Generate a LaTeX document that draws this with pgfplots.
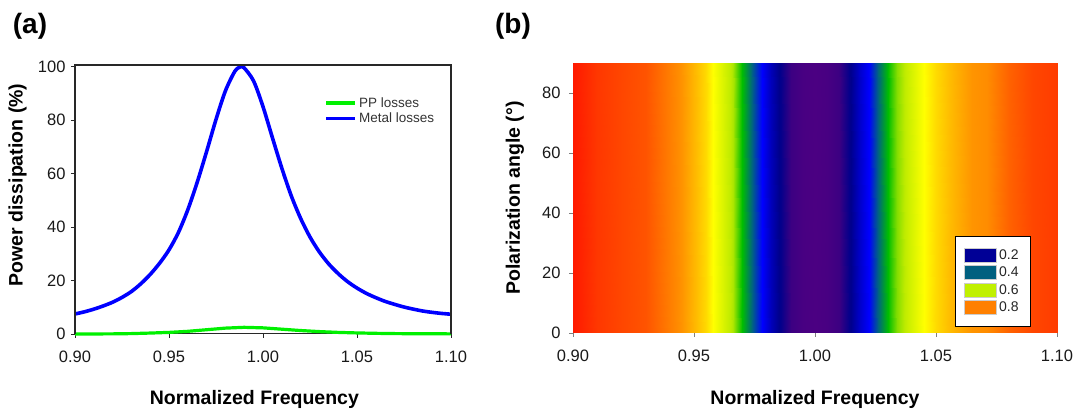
\documentclass[border=0pt]{standalone}
\usepackage{fontspec}
\setmainfont{Liberation Sans}
\usepackage{pgfplots}
\usepackage{pgfplotstable}
\pgfplotsset{compat=1.18}

\definecolor{gA}{RGB}{0,240,0}
\definecolor{bA}{RGB}{0,0,255}
\definecolor{frameC}{RGB}{40,40,40}
\definecolor{sw1}{RGB}{0,0,150}
\definecolor{sw2}{RGB}{0,96,128}
\definecolor{sw3}{RGB}{192,240,0}
\definecolor{sw4}{RGB}{255,128,0}

\pgfplotstableread{
x y
0.900 7.5
0.905 8.3
0.910 9.3
0.915 10.5
0.920 11.9
0.925 13.7
0.930 15.9
0.935 18.8
0.940 22.3
0.945 26.5
0.950 31.5
0.955 38.0
0.960 46.5
0.965 56.8
0.970 68.3
0.975 80.3
0.980 91.0
0.985 98.3
0.988 100.0
0.990 99.6
0.995 94.7
1.000 85.1
1.005 73.5
1.010 62.1
1.015 51.8
1.020 43.3
1.025 36.3
1.030 30.7
1.035 26.2
1.040 22.6
1.045 19.6
1.050 17.2
1.055 15.2
1.060 13.6
1.065 12.2
1.070 11.1
1.075 10.1
1.080 9.3
1.085 8.6
1.090 8.1
1.095 7.7
1.100 7.4
}\metal

\pgfplotstableread{
x y
0.900 0.0
0.920 0.05
0.930 0.15
0.940 0.35
0.950 0.6
0.960 1.0
0.970 1.6
0.980 2.2
0.990 2.5
1.000 2.3
1.010 1.8
1.020 1.3
1.030 0.9
1.040 0.6
1.050 0.4
1.060 0.25
1.070 0.15
1.080 0.1
1.100 0.05
}\pp

\pgfplotstableread{
x y z
0.900 0 0.99
0.910 0 0.93
0.920 0 0.90
0.930 0 0.88
0.940 0 0.82
0.945 0 0.79
0.950 0 0.75
0.955 0 0.71
0.958 0 0.67
0.962 0 0.63
0.966 0 0.59
0.970 0 0.50
0.974 0 0.40
0.978 0 0.30
0.982 0 0.24
0.986 0 0.19
0.990 0 0.10
0.995 0 0.02
1.000 0 0.00
1.005 0 0.02
1.010 0 0.10
1.014 0 0.19
1.018 0 0.25
1.0225 0 0.30
1.026 0 0.40
1.030 0 0.50
1.034 0 0.57
1.038 0 0.61
1.045 0 0.67
1.050 0 0.71
1.057 0 0.75
1.065 0 0.79
1.071 0 0.80
1.080 0 0.86
1.090 0 0.90
1.100 0 0.92
0.900 90 0.99
0.910 90 0.93
0.920 90 0.90
0.930 90 0.88
0.940 90 0.82
0.945 90 0.79
0.950 90 0.75
0.955 90 0.71
0.958 90 0.67
0.962 90 0.63
0.966 90 0.59
0.970 90 0.50
0.974 90 0.40
0.978 90 0.30
0.982 90 0.24
0.986 90 0.19
0.990 90 0.10
0.995 90 0.02
1.000 90 0.00
1.005 90 0.02
1.010 90 0.10
1.014 90 0.19
1.018 90 0.25
1.0225 90 0.30
1.026 90 0.40
1.030 90 0.50
1.034 90 0.57
1.038 90 0.61
1.045 90 0.67
1.050 90 0.71
1.057 90 0.75
1.065 90 0.79
1.071 90 0.80
1.080 90 0.86
1.090 90 0.90
1.100 90 0.92
}\mapdata

\pgfplotsset{
  common/.style={
    scale only axis,
    tick align=outside,
    major tick length=4pt,
    xtick pos=bottom, ytick pos=left,
    xmin=0.9, xmax=1.1,
    xtick={0.9,0.95,1.0,1.05,1.1},
    xticklabel style={/pgf/number format/fixed, /pgf/number format/fixed zerofill, /pgf/number format/precision=2},
    /pgf/number format/assume math mode=true,
    tick label style={font=\fontsize{16.5}{18}\selectfont, text=black!90},
    label style={font=\bfseries\fontsize{19.5}{22}\selectfont},
    minor tick num=0,
  }
}

\begin{document}
\begin{tikzpicture}
\useasboundingbox (0pt,0pt) rectangle (1079pt,412pt);

% ---------- panel (a)
\begin{axis}[common,
  name=pa,
  at={(75pt,78pt)}, anchor=south west,
  width=376pt, height=269pt,
  ymin=0, ymax=100.7,
  ytick={0,20,40,60,80,100},
  axis line style={draw=frameC, line width=1pt},
  tick style={draw=frameC, line width=0.8pt},
  clip=false,
  xticklabel style={yshift=-9pt},
  yticklabel style={xshift=-2pt},
  xlabel={Normalized Frequency},
  ylabel={Power dissipation (\%)},
  xlabel style={at={(axis description cs:0.477,-0.245)}, anchor=center},
  ylabel style={at={(axis description cs:-0.153,0.554)}, anchor=center},
  legend style={at={(rel axis cs:0.655,0.895)}, anchor=north west, draw=none, fill=none,
     font=\fontsize{13.5}{15}\selectfont, text=black!80, row sep=0pt, nodes={inner sep=2pt}},
  legend cell align=left,
  legend image code/.code={\draw[#1] (0pt,0pt) -- (29pt,0pt);},
]
\addplot[gA, line width=3.2pt, line join=round] table[x=x,y=y] {\pp};
\addlegendentry{PP losses}
\addplot[bA, line width=3.6pt, line join=round, smooth] table[x=x,y=y] {\metal};
\addlegendentry{Metal losses}
\end{axis}
\draw[draw=frameC, line width=1.1pt] (pa.south west) -- (pa.north west) -- (pa.north east) -- (pa.south east);

% ---------- panel (b)
\begin{axis}[common,
  at={(573pt,79pt)}, anchor=south west,
  width=484pt, height=270pt,
  ymin=0, ymax=90,
  ytick={0,20,40,60,80},
  axis line style={draw=none},
  tick style={draw=gray, line width=0.8pt},
  xticklabel style={yshift=-9pt},
  yticklabel style={xshift=-5pt},
  xlabel={Normalized Frequency},
  ylabel={Polarization angle (°)},
  xlabel style={at={(axis description cs:0.5,-0.248)}, anchor=center},
  ylabel style={at={(axis description cs:-0.12,0.5)}, anchor=center},
  colormap={spec}{
    rgb255(0)=(75,0,130)
    rgb255(10)=(60,0,130)
    rgb255(20)=(0,0,140)
    rgb255(30)=(0,0,255)
    rgb255(40)=(0,100,128)
    rgb255(50)=(0,190,0)
    rgb255(60)=(190,235,0)
    rgb255(67)=(255,255,0)
    rgb255(74)=(255,190,0)
    rgb255(80)=(255,140,0)
    rgb255(90)=(255,70,0)
    rgb255(100)=(255,20,0)
  },
  point meta min=0, point meta max=1,
  legend style={at={(rel axis cs:0.946,0.026)}, anchor=south east, draw=black, fill=white,
     font=\fontsize{14}{15}\selectfont, text=black!85, row sep=2pt,
     nodes={inner ysep=2pt, inner xsep=3pt}, inner xsep=9pt, inner ysep=11pt},
  legend cell align=left,
]
\addplot[surf, shader=interp, mesh/rows=2, point meta=explicit, forget plot]
  table[x=x, y=y, meta=z] {\mapdata};
\addlegendimage{legend image code/.code={\filldraw[fill=sw1, draw=black!20] (0pt,-7pt) rectangle (32pt,7pt);}}
\addlegendentry{0.2\hspace{9pt}}
\addlegendimage{legend image code/.code={\filldraw[fill=sw2, draw=black!20] (0pt,-7pt) rectangle (32pt,7pt);}}
\addlegendentry{0.4\hspace{9pt}}
\addlegendimage{legend image code/.code={\filldraw[fill=sw3, draw=black!20] (0pt,-7pt) rectangle (32pt,7pt);}}
\addlegendentry{0.6\hspace{9pt}}
\addlegendimage{legend image code/.code={\filldraw[fill=sw4, draw=black!20] (0pt,-7pt) rectangle (32pt,7pt);}}
\addlegendentry{0.8\hspace{9pt}}
\end{axis}

\node[font=\bfseries\fontsize{28}{30}\selectfont] at (30pt,386pt) {(a)};
\node[font=\bfseries\fontsize{28}{30}\selectfont] at (513pt,386pt) {(b)};
\end{tikzpicture}
\end{document}
